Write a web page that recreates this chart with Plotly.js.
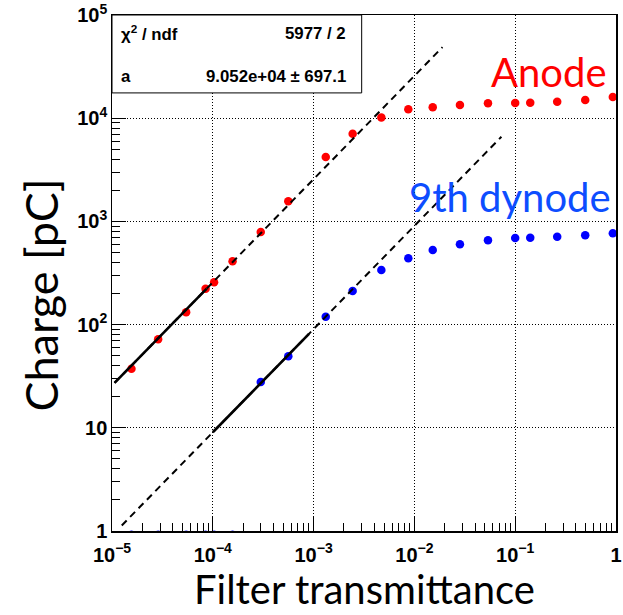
<!DOCTYPE html>
<html>
<head>
<meta charset="utf-8">
<script src="https://cdn.plot.ly/plotly-3.0.1.min.js"></script>
<style>html,body{margin:0;padding:0;background:#fff;}</style>
</head>
<body>
<div id="chart" style="width:623px;height:615px;"></div>
<script>
// ---- data ----
const transmittance = [1.56e-5, 2.87e-5, 5.44e-5, 8.48e-5, 1.03e-4, 1.57e-4, 2.99e-4, 5.61e-4,
  1.32e-3, 2.44e-3, 4.7e-3, 8.7e-3, 0.0152, 0.0283, 0.0537, 0.1, 0.141, 0.261, 0.495, 0.93];
const anodeCharge = [37.4, 72.1, 132, 223, 257, 410, 789, 1566,
  4206, 7079, 10150, 12200, 12760, 13430, 13940, 14040, 14130, 14460, 15010, 16040];
const dynodeCharge = [0.92, 0.92, 0.92, 0.92, 0.92, 0.92, 27.8, 49.3,
  119, 212, 338, 440, 528, 600, 656, 691, 695, 711, 733, 767];

// linear fits  Q = a * T
const anodeFitA = 2.57e6;
const dynodeFitA = 9.052e4;
const anodeFitRange = [1.06e-5, 8.7e-5];
const anodeExtRange = [1.06e-5, 0.019];
const dynodeFitRange = [1.0e-4, 9.0e-4];
const dynodeExtRange = [1.25e-5, 0.073];

const statsLabels = ['\u03c7<sup>2</sup> / ndf', 'a'];
const statsValues = ['5977 / 2', '9.052e+04 \u00b1 697.1'];
const seriesLabels = ['Anode', '9th dynode'];
const axisTitles = ['Filter transmittance', 'Charge [pC]'];

function fitLine(a, range) { return {x: range.slice(), y: range.map(t => a * t)}; }

const aExt = fitLine(anodeFitA, anodeExtRange);
const aFit = fitLine(anodeFitA, anodeFitRange);
const dExt = fitLine(dynodeFitA, dynodeExtRange);
const dFit = fitLine(dynodeFitA, dynodeFitRange);

const traces = [
  {x: transmittance, y: anodeCharge, type: 'scatter', mode: 'markers', name: 'Anode',
   marker: {color: '#ff0000', size: 8.5}},
  {x: transmittance, y: dynodeCharge, type: 'scatter', mode: 'markers', name: '9th dynode',
   marker: {color: '#0000ff', size: 8.5}},
  {x: aExt.x, y: aExt.y, type: 'scatter', mode: 'lines', line: {color: 'black', width: 2, dash: '7px,5px'}},
  {x: dExt.x, y: dExt.y, type: 'scatter', mode: 'lines', line: {color: 'black', width: 2, dash: '7px,5px'}},
  {x: aFit.x, y: aFit.y, type: 'scatter', mode: 'lines', line: {color: 'black', width: 2.6}},
  {x: dFit.x, y: dFit.y, type: 'scatter', mode: 'lines', line: {color: 'black', width: 2.6}}
];

const tickFont = {family: 'Liberation Sans, Arial, sans-serif', size: 16, weight: 'bold', color: 'black'};
const axisCommon = {
  type: 'log', dtick: 1, exponentformat: 'power',
  showline: true, mirror: true, linecolor: 'black', linewidth: 1.5,
  ticks: 'inside', ticklen: 14, tickwidth: 1, tickcolor: 'black',
  showgrid: true, gridcolor: 'black', griddash: '1px,2px', gridwidth: 1,
  zeroline: false, tickfont: tickFont, automargin: false,
  minor: {ticks: 'inside', ticklen: 8, tickwidth: 1, tickcolor: 'black', dtick: 'D1', showgrid: false}
};

const statFont = {family: 'Liberation Sans, Arial, sans-serif', size: 16.8, weight: 'bold', color: 'black'};
const xTitleFont = {family: 'Lato, sans-serif', size: 40, color: 'black'};
const yTitleFont = {family: 'Lato, sans-serif', size: 45, color: 'black'};

const layout = {
  width: 623, height: 615,
  margin: {l: 112, r: 7, t: 15, b: 84},
  paper_bgcolor: 'white', plot_bgcolor: 'white',
  showlegend: false,
  xaxis: Object.assign({}, axisCommon, {range: [-5, 0], ticklabelstandoff: 6}),
  yaxis: Object.assign({}, axisCommon, {range: [0, 5]}),
  shapes: [
    {type: 'rect', xref: 'paper', yref: 'paper', x0: 0, x1: 0.4954, y0: 0.849, y1: 1.0,
     fillcolor: 'white', line: {color: 'black', width: 1}, layer: 'above'}
  ],
  annotations: [
    {text: axisTitles[0], xref: 'paper', yref: 'paper', x: 0.5, y: -0.112,
     showarrow: false, font: xTitleFont, xanchor: 'center', yanchor: 'middle'},
    {text: axisTitles[1], xref: 'paper', yref: 'paper', x: -0.141, y: 0.458, textangle: -90,
     showarrow: false, font: yTitleFont, xanchor: 'center', yanchor: 'middle'},
    {text: statsLabels[0], xref: 'paper', yref: 'paper', x: 0.013, y: 0.9645, xanchor: 'left', yanchor: 'middle',
     showarrow: false, font: statFont},
    {text: statsValues[0], xref: 'paper', yref: 'paper', x: 0.468, y: 0.9645, xanchor: 'right', yanchor: 'middle',
     showarrow: false, font: statFont},
    {text: statsLabels[1], xref: 'paper', yref: 'paper', x: 0.013, y: 0.880, xanchor: 'left', yanchor: 'middle',
     showarrow: false, font: statFont},
    {text: statsValues[1], xref: 'paper', yref: 'paper', x: 0.468, y: 0.880, xanchor: 'right', yanchor: 'middle',
     showarrow: false, font: statFont},
    {text: seriesLabels[0], xref: 'paper', yref: 'paper', x: 0.867, y: 0.889, xanchor: 'center', yanchor: 'middle',
     showarrow: false, font: {family: 'Lato, sans-serif', size: 40, color: '#ff0000'}},
    {text: seriesLabels[1], xref: 'paper', yref: 'paper', x: 0.789, y: 0.648, xanchor: 'center', yanchor: 'middle',
     showarrow: false, font: {family: 'Lato, sans-serif', size: 40, color: '#0d4dff'}}
  ]
};

Plotly.newPlot('chart', traces, layout, {displayModeBar: false, staticPlot: true});
</script>
</body>
</html>
